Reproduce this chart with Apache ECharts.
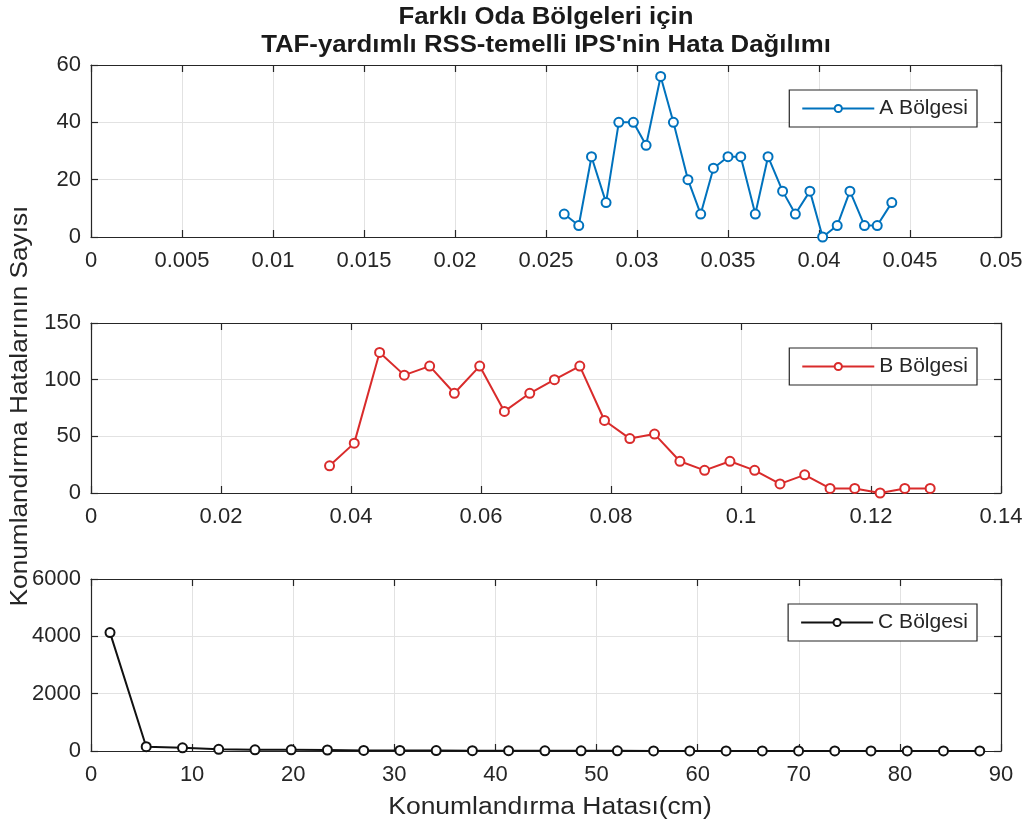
<!DOCTYPE html>
<html>
<head>
<meta charset="utf-8">
<script src="https://cdn.jsdelivr.net/npm/echarts@6/dist/echarts.min.js"></script>
<style>
  html, body { margin: 0; padding: 0; background: #fff; }
  #chart { width: 1032px; height: 830px; }
</style>
</head>
<body>
<div id="chart"></div>
<script>
// A Bölgesi
var aX = [0.0260, 0.0268, 0.0275, 0.0283, 0.0290, 0.0298, 0.0305, 0.0313, 0.0320, 0.0328, 0.0335, 0.0342, 0.0350,
  0.0357, 0.0365, 0.0372, 0.0380, 0.0387, 0.0395, 0.0402, 0.0410, 0.0417, 0.0425, 0.0432, 0.0440]
var aY = [8, 4, 28, 12, 40, 40, 32, 56, 40, 20, 8, 24, 28, 28, 8, 28, 16, 8, 16, 0, 4, 16, 4, 4, 12]
// B Bölgesi
var bX = [0.0367, 0.0405, 0.0444, 0.0482, 0.0521, 0.0559, 0.0598, 0.0636, 0.0675, 0.0713, 0.0752, 0.0790, 0.0829,
  0.0867, 0.0906, 0.0944, 0.0983, 0.1021, 0.1060, 0.1098, 0.1137, 0.1175, 0.1214, 0.1252, 0.1291]
var bY = [24, 44, 124, 104, 112, 88, 112, 72, 88, 100, 112, 64, 48, 52, 28, 20, 28, 20, 8, 16, 4, 4, 0, 4, 4]
// C Bölgesi
var cX = [1.88, 5.46, 9.05, 12.63, 16.22, 19.80, 23.38, 26.97, 30.55, 34.14, 37.72, 41.30, 44.89,
  48.47, 52.06, 55.64, 59.22, 62.81, 66.39, 69.98, 73.56, 77.14, 80.73, 84.31, 87.90]
var cY = [4130, 150, 110, 60, 40, 40, 35, 20, 20, 15, 10, 10, 8, 6, 5, 4, 4, 3, 3, 2, 2, 2, 1, 1, 1]

var names = ['A Bölgesi', 'B Bölgesi', 'C Bölgesi']
var colors = ['#0072BD', '#D92B2B', '#111111']
var xMax = [0.05, 0.14, 90]
var xStep = [0.005, 0.02, 10]
var yMax = [60, 150, 6000]
var yStep = [20, 50, 2000]
var gridTops = [65, 323, 579]
var gridHeights = [172, 170, 172]

var font = 'Liberation Sans, Arial, sans-serif'
var axisColor = '#262626'

function zip(xs, ys) {
  return xs.map(function (x, i) { return [x, ys[i]] })
}
function plain(v) { return String(v) }

var grids = [], xAxes = [], yAxes = [], legends = [], series = []
var seriesData = [zip(aX, aY), zip(bX, bY), zip(cX, cY)]

for (var i = 0; i < 3; i++) {
  grids.push({ left: 91, right: 31, top: gridTops[i], height: gridHeights[i], show: false })
  var line = { show: true, onZero: false, lineStyle: { color: axisColor, width: 1.2 } }
  var tick = { show: true, inside: true, length: 7, lineStyle: { color: axisColor, width: 1.2 } }
  // bottom / left with labels
  xAxes.push({
    type: 'value', gridIndex: i, min: 0, max: xMax[i], interval: xStep[i], position: 'bottom',
    axisLine: line, axisTick: tick,
    axisLabel: { color: axisColor, fontSize: 22, fontFamily: font, margin: 13, formatter: plain },
    splitLine: { show: true, lineStyle: { color: '#e2e2e2', width: 1 } }
  })
  yAxes.push({
    type: 'value', gridIndex: i, min: 0, max: yMax[i], interval: yStep[i], position: 'left',
    axisLine: line, axisTick: tick,
    axisLabel: { color: axisColor, fontSize: 22, fontFamily: font, margin: 10, formatter: plain },
    splitLine: { show: true, lineStyle: { color: '#e2e2e2', width: 1 } }
  })
  series.push({
    name: names[i], type: 'line', xAxisIndex: i, yAxisIndex: i,
    data: seriesData[i],
    symbol: 'emptyCircle', symbolSize: 9,
    color: colors[i],
    lineStyle: { color: colors[i], width: 2 },
    itemStyle: { color: colors[i], borderWidth: 1.6 },
    animation: false
  })
  legends.push({
    data: [names[i]], right: 55, top: gridTops[i] + 25,
    orient: 'horizontal',
    backgroundColor: '#fff', borderColor: axisColor, borderWidth: 1.2,
    padding: [8, 9, 8, 12], itemWidth: 72, itemHeight: 9, itemGap: 0,
    textStyle: { color: axisColor, fontSize: 21, fontFamily: font },
    selectedMode: false
  })
}
// top / right axes only for the box ticks
for (var j = 0; j < 3; j++) {
  var line2 = { show: true, onZero: false, lineStyle: { color: axisColor, width: 1.2 } }
  var tick2 = { show: true, inside: true, length: 7, lineStyle: { color: axisColor, width: 1.2 } }
  xAxes.push({
    type: 'value', gridIndex: j, min: 0, max: xMax[j], interval: xStep[j], position: 'top',
    axisLine: line2, axisTick: tick2, axisLabel: { show: false }, splitLine: { show: false }
  })
  yAxes.push({
    type: 'value', gridIndex: j, min: 0, max: yMax[j], interval: yStep[j], position: 'right',
    axisLine: line2, axisTick: tick2, axisLabel: { show: false }, splitLine: { show: false }
  })
}

var chart = echarts.init(document.getElementById('chart'), null, { renderer: 'canvas' })
chart.setOption({
  animation: false,
  backgroundColor: '#fff',
  grid: grids,
  xAxis: xAxes,
  yAxis: yAxes,
  legend: legends,
  series: series,
  graphic: [
    {
      type: 'text', x: 546, y: 18, scaleX: 1.12,
      style: { text: 'Farklı Oda Bölgeleri için', fill: '#1a1a1a', font: 'bold 23px ' + font,
        textAlign: 'center', textVerticalAlign: 'middle' }
    },
    {
      type: 'text', x: 546, y: 46, scaleX: 1.12,
      style: { text: "TAF-yardımlı RSS-temelli IPS'nin Hata Dağılımı", fill: '#1a1a1a', font: 'bold 23px ' + font,
        textAlign: 'center', textVerticalAlign: 'middle' }
    },
    {
      type: 'text', x: 550, y: 808, scaleX: 1.15,
      style: { text: 'Konumlandırma Hatası(cm)', fill: axisColor, font: '23px ' + font,
        textAlign: 'center', textVerticalAlign: 'middle' }
    },
    {
      type: 'text', x: 21, y: 406, rotation: Math.PI / 2, scaleX: 1.14,
      style: { text: 'Konumlandırma Hatalarının Sayısı', fill: axisColor, font: '23px ' + font,
        textAlign: 'center', textVerticalAlign: 'middle' }
    }
  ]
})
</script>
</body>
</html>
